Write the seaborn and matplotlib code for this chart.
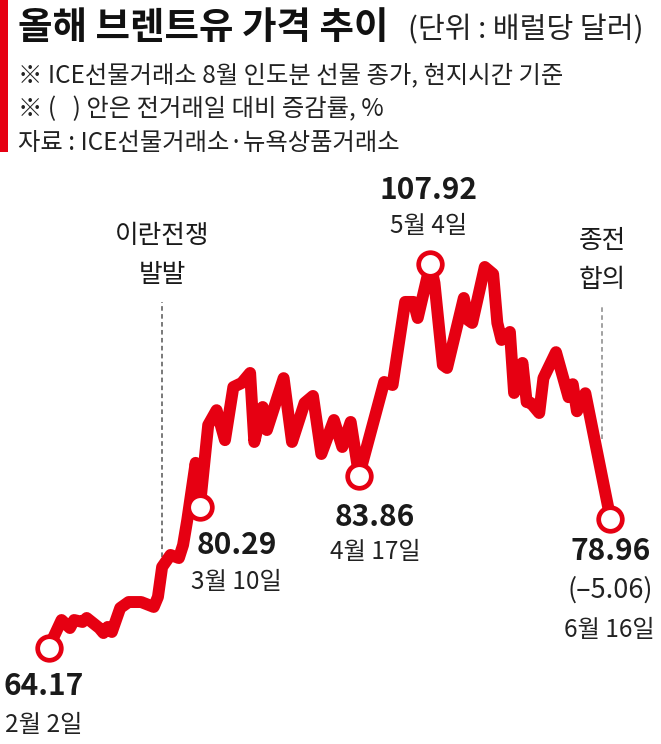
import matplotlib
matplotlib.use("Agg")
import matplotlib.pyplot as plt
from matplotlib.patches import Rectangle
import pandas as pd
import seaborn as sns

# ---------------- data ----------------
dates = [
    "2026-02-02", "2026-02-03", "2026-02-05", "2026-02-07", "2026-02-08", "2026-02-10",
    "2026-02-11", "2026-02-14", "2026-02-15", "2026-02-16", "2026-02-17", "2026-02-19",
    "2026-02-21", "2026-02-24", "2026-02-27", "2026-02-28",
    "2026-03-01", "2026-03-03", "2026-03-05", "2026-03-06", "2026-03-07", "2026-03-09",
    "2026-03-10", "2026-03-12", "2026-03-14", "2026-03-16", "2026-03-18", "2026-03-20",
    "2026-03-22", "2026-03-23", "2026-03-25", "2026-03-26", "2026-03-30",
    "2026-04-01", "2026-04-04", "2026-04-06", "2026-04-08", "2026-04-11", "2026-04-13",
    "2026-04-15", "2026-04-17", "2026-04-23", "2026-04-25", "2026-04-28", "2026-04-30",
    "2026-05-01", "2026-05-04", "2026-05-05", "2026-05-07", "2026-05-08", "2026-05-12",
    "2026-05-13", "2026-05-14", "2026-05-17", "2026-05-19", "2026-05-20", "2026-05-21",
    "2026-05-23", "2026-05-24", "2026-05-26", "2026-05-27", "2026-05-28", "2026-05-30",
    "2026-05-31",
    "2026-06-03", "2026-06-06", "2026-06-07", "2026-06-08", "2026-06-10", "2026-06-16",
]
prices = [
    64.17, 65.36, 67.41, 66.50, 67.41, 67.19,
    67.64, 66.50, 65.93, 66.62, 66.05, 68.78,
    69.46, 69.46, 68.90, 70.04,
    73.45, 74.82, 74.47, 75.96, 78.80, 85.31,
    80.29, 89.62, 91.31, 87.90, 93.95, 94.41,
    95.55, 87.69, 91.67, 89.05, 94.96,
    87.69, 92.13, 92.93, 86.32, 90.19, 87.12,
    89.97, 83.86, 94.52, 94.18, 103.64, 103.64,
    101.81, 107.92, 105.80, 96.46, 96.12, 104.09,
    101.59, 101.25, 107.62, 106.82, 101.25, 99.31,
    100.22, 93.27, 96.69, 92.24, 92.13, 90.99,
    94.96,
    97.92, 92.79, 94.27, 91.19, 93.24, 78.96,
]

hl_dates = ["2026-02-02", "2026-03-10", "2026-04-17", "2026-05-04", "2026-06-16"]
hl_values = [64.17, 80.29, 83.86, 107.92, 78.96]
hl_date_labels = ["2월 2일", "3월 10일", "4월 17일", "5월 4일", "6월 16일"]
last_change = "(–5.06)"

event_dates = ["2026-03-01", "2026-06-14"]
event_top_lines = ["이란전쟁", "종전"]
event_bottom_lines = ["발발", "합의"]

title = "올해 브렌트유 가격 추이"
unit = "(단위 : 배럴당 달러)"
notes = [
    "※ ICE선물거래소 8월 인도분 선물 종가, 현지시간 기준",
    "※ (   ) 안은 전거래일 대비 증감률, %",
    "자료 : ICE선물거래소·뉴욕상품거래소",
]

# ---------------- style ----------------
sns.set_theme(style="white")
plt.rcParams["font.family"] = ["Noto Sans CJK KR", "DejaVu Sans"]

RED = "#E60012"
DARK = "#1a1a1a"
W, H = 661, 744

df = pd.DataFrame({"date": pd.to_datetime(dates), "price": prices})
hl = pd.DataFrame({"date": pd.to_datetime(hl_dates), "price": hl_values})

fig = plt.figure(figsize=(W / 100, H / 100), dpi=100)
ax = fig.add_axes([0, 0, 1, 1])

sns.lineplot(data=df, x="date", y="price", ax=ax, color=RED, linewidth=8.6,
             solid_joinstyle="round", solid_capstyle="round", zorder=3, legend=False)
ax.plot(hl["date"], hl["price"], "o", ms=17, mfc="white", mec=RED, mew=3.4, zorder=4)

start = pd.Timestamp("2026-02-02")
ax.set_xlim(start - pd.Timedelta(days=11.69), start + pd.Timedelta(days=146.06))
ax.set_ylim(53.29, 138.03)
ax.axis("off")

# event guides
guide_spans = [(74.6, 103.6, "#555555"), (88.0, 103.1, "#888888")]
for d, top, bot, (y0, y1, col) in zip(event_dates, event_top_lines, event_bottom_lines, guide_spans):
    dt = pd.Timestamp(d)
    ax.vlines(dt, y0, y1, colors=col, linestyles=(0, (3, 2.2)), linewidth=1.1, zorder=1)
    ax.annotate(top, xy=(dt, y1), xytext=(0, 66), textcoords="offset pixels",
                ha="center", va="center", fontsize=18.5, color=DARK)
    ax.annotate(bot, xy=(dt, y1), xytext=(0, 27), textcoords="offset pixels",
                ha="center", va="center", fontsize=18.5, color=DARK)

# point labels: (value offset, date offset)
label_offsets = [((-5, -38), (-5, -77)),
                 ((37, -38), (37, -75)),
                 ((16, -41), (16, -76)),
                 ((-2, 74), (-2, 38)),
                 ((0, -32), (-1, -111))]
for (dt, v, lab, (vo, do)) in zip(hl["date"], hl_values, hl_date_labels, label_offsets):
    ax.annotate(f"{v:.2f}", xy=(dt, v), xytext=vo, textcoords="offset pixels",
                ha="center", va="center", fontsize=21.5, fontweight="heavy", color=DARK)
    ax.annotate(lab, xy=(dt, v), xytext=do, textcoords="offset pixels",
                ha="center", va="center", fontsize=17.5, color="#222222")
ax.annotate(last_change, xy=(hl["date"].iloc[-1], hl_values[-1]), xytext=(0, -71),
            textcoords="offset pixels", ha="center", va="center", fontsize=19.5, color="#222222")

# header
fx = lambda px: px / W
fy = lambda py: 1 - py / H
fig.add_artist(Rectangle((0, fy(152)), 8 / W, 152 / H, transform=fig.transFigure,
                         color=RED, lw=0))
fig.text(fx(18), fy(39), title, fontsize=27, fontweight="heavy", color="#111111", va="baseline")
fig.text(fx(408), fy(38), unit, fontsize=21, color="#222222", va="baseline")
for txt, base in zip(notes, [82, 116, 150]):
    fig.text(fx(18), fy(base), txt, fontsize=17.5, color="#222222", va="baseline")

fig.savefig("out.png", dpi=100)
